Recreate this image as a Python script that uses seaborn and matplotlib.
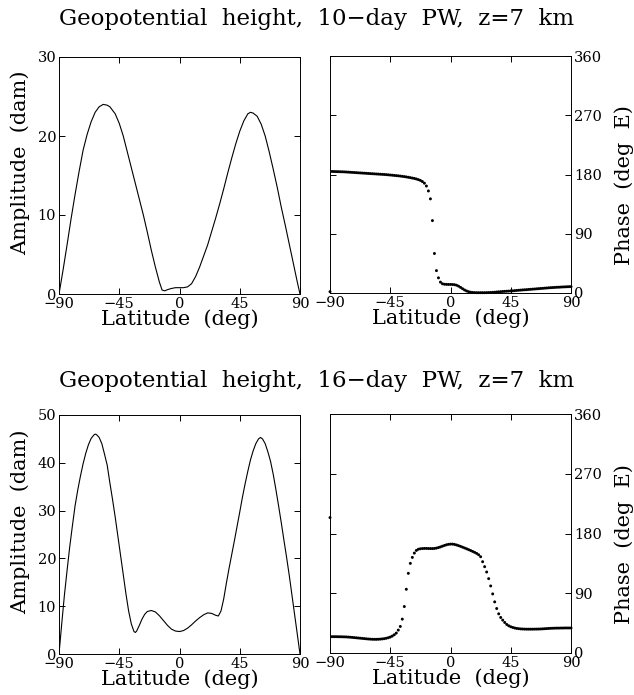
import numpy as np
import pandas as pd
import matplotlib
matplotlib.use("Agg")
import matplotlib.pyplot as plt
import seaborn as sns

# ---------------- data ----------------
# 10-day PW amplitude (dam)
amp10_lat = [-90, -87, -84, -81, -78, -75, -72, -69, -66, -63, -60, -57, -54, -52, -48, -45,
             -42, -39, -36, -33, -30, -27, -24, -21, -18, -15, -13, -11, -9, -6, -3, 0, 3, 6,
             9, 12, 15, 18, 21, 24, 27, 30, 33, 36, 39, 42, 45, 48, 51, 53, 55, 58, 61, 64,
             67, 70, 73, 76, 79, 82, 85, 88, 90]
amp10_val = [0, 3.0, 6.2, 9.5, 12.6, 15.5, 18.2, 20.2, 21.8, 23.0, 23.7, 24.0, 23.9, 23.7, 22.8, 21.6,
             20.0, 18.0, 16.0, 14.0, 12.0, 10.0, 7.8, 5.5, 3.4, 1.5, 0.5, 0.4, 0.55, 0.7, 0.8, 0.8, 0.8, 0.9,
             1.3, 2.2, 3.4, 4.8, 6.2, 7.9, 9.6, 11.4, 13.3, 15.3, 17.2, 19.0, 20.6, 21.9, 22.8, 23.0, 22.9, 22.5, 21.5, 20.0,
             18.0, 15.8, 13.5, 11.0, 8.7, 6.3, 3.9, 1.5, 0]

# 16-day PW amplitude (dam)
amp16_lat = [-90, -88, -86, -84, -82, -80, -78, -76, -74, -72, -70, -68, -66, -64, -63, -62, -60, -58,
             -56, -54, -52, -50, -48, -46, -44, -42, -40, -38, -36, -34, -33, -32, -30, -28, -26, -24,
             -21, -18, -15, -12, -9, -6, -3, 0, 3, 6, 9, 12, 15, 18, 21, 24, 27, 29, 31, 33, 35,
             37, 39, 41, 43, 45, 47, 49, 51, 53, 55, 57, 59, 60.5, 62, 64, 66, 68, 70, 72, 74,
             76, 78, 80, 82, 84, 86, 88, 90]
amp16_val = [0, 6.2, 12.2, 17.4, 22.4, 26.8, 31.0, 34.3, 37.2, 39.8, 42.0, 43.8, 45.1, 45.8, 46.0, 45.9, 45.3, 44.0,
             41.8, 39.5, 35.8, 32.3, 28.6, 24.6, 20.6, 16.6, 12.6, 9.0, 6.3, 4.7, 4.5, 4.8, 6.0, 7.3, 8.3, 8.9,
             9.1, 8.8, 8.0, 7.0, 6.0, 5.2, 4.8, 4.7, 4.9, 5.4, 6.1, 6.9, 7.6, 8.2, 8.6, 8.5, 8.1, 7.95, 9.0, 11.5, 14.8,
             17.9, 20.8, 23.7, 26.7, 29.7, 32.8, 35.6, 38.2, 40.6, 42.5, 44.0, 45.0, 45.3, 45.0, 44.0, 42.3, 40.3, 37.6, 34.4, 31.0,
             27.5, 23.8, 20.2, 16.4, 12.3, 8.2, 4.1, 0]

# phase latitudes: -90 .. 90 every 1.5 deg (121 points)
phase_lat = [round(-90 + 1.5 * i, 1) for i in range(121)]

phase10 = [2,
           184.6, 184.5, 184.4, 184.3, 184.2, 184.1, 184.0, 183.8, 183.6, 183.4,
           183.2, 183.0, 182.8, 182.6, 182.4, 182.2, 182.0, 181.8, 181.6, 181.4,
           181.2, 181.0, 180.8, 180.6, 180.4, 180.2, 180.0, 179.8, 179.5, 179.2,
           178.9, 178.6, 178.3, 178.0, 177.6, 177.2, 176.8, 176.3, 175.8, 175.2,
           174.6, 174.0, 173.2, 172.2, 171.0, 169.3, 166.8, 162.5, 155, 143,
           110, 60, 34, 23, 16.5, 14, 13.3, 13.1, 13.0, 13.0,
           12.9, 12.6, 11.8, 10.4, 8.5, 6.5, 4.6, 3.1, 2.0, 1.2,
           0.8, 0.6, 0.5, 0.5, 0.5, 0.5, 0.5, 0.6, 0.7, 0.8,
           1.0, 1.2, 1.5, 1.8, 2.0, 2.3, 2.5, 2.7, 2.9, 3.1,
           3.3, 3.6, 3.9, 4.2, 4.4, 4.7, 4.9, 5.1, 5.4, 5.6,
           5.9, 6.1, 6.4, 6.6, 6.9, 7.1, 7.4, 7.6, 7.9, 8.1,
           8.3, 8.5, 8.7, 8.8, 9.0, 9.2, 9.3, 9.5, 9.6, 9.7]

phase16 = [204,
           24.6, 24.6, 24.6, 24.5, 24.5, 24.4, 24.3, 24.2, 24.0, 23.8,
           23.5, 23.2, 22.9, 22.6, 22.3, 22.0, 21.7, 21.4, 21.1, 20.9,
           20.7, 20.6, 20.6, 20.7, 20.9, 21.2, 21.6, 22.2, 23.0, 24.0,
           25.5, 27.5, 30, 34.5, 40, 51, 70, 96, 120, 135,
           144, 150.5, 154.5, 156.3, 157, 157.3, 157.5, 157.5, 157.4, 157.3,
           157.3, 157.5, 158, 158.8, 159.8, 160.9, 162, 163, 163.7, 164,
           164, 163.5, 162.7, 161.7, 160.6, 159.4, 158.2, 157, 155.7, 154.4,
           153, 151.6, 150, 148, 145, 137.5, 130, 122, 112, 101,
           89, 77, 67, 59, 53.5, 49.5, 46, 43, 41, 39.5,
           38.5, 37.6, 37, 36.6, 36.3, 36.1, 36, 35.9, 35.9, 35.9,
           35.9, 36, 36, 36.1, 36.2, 36.4, 36.6, 36.8, 37, 37.2,
           37.3, 37.4, 37.5, 37.5, 37.6, 37.6, 37.7, 37.7, 37.7, 37.7]

titles = ["Geopotential  height,  10\u2212day  PW,  z=7  km",
          "Geopotential  height,  16\u2212day  PW,  z=7  km"]
lat_ticks = [-90, -45, 0, 45, 90]
phase_ticks = [0, 90, 180, 270, 360]
amp_ticks_top = [0, 10, 20, 30]
amp_ticks_bot = [0, 10, 20, 30, 40, 50]

# ---------------- style ----------------
sns.set_style("ticks")
plt.rcParams['font.family'] = ['DejaVu Serif']
plt.rcParams['text.color'] = 'black'
plt.rcParams['axes.labelcolor'] = 'black'
plt.rcParams['xtick.color'] = 'black'
plt.rcParams['ytick.color'] = 'black'
plt.rcParams['axes.linewidth'] = 0.7
plt.rcParams['xtick.direction'] = 'in'
plt.rcParams['ytick.direction'] = 'in'

W, H = 634, 695
fig = plt.figure(figsize=(W / 100, H / 100), dpi=100)


def add_ax(x0, y0, x1, y1):
    return fig.add_axes([x0 / W, 1 - y1 / H, (x1 - x0) / W, (y1 - y0) / H])


TICK_FS = 10.5
LAB_FS = 15
TITLE_FS = 16.5


def style_common(ax):
    ax.set_xlim(-90, 90)
    ax.set_xticks(lat_ticks)
    ax.set_xticklabels([f"{t:d}".replace("-", "\u2212") for t in lat_ticks])
    ax.tick_params(axis='both', which='major', direction='in', length=4, width=0.7,
                   top=True, right=True, bottom=True, left=True, labelsize=TICK_FS, pad=2,
                   colors='black')
    ax.set_xlabel("Latitude  (deg)", fontsize=LAB_FS)
    ax.xaxis.label.set_va('center')
    ax.xaxis.set_label_coords(0.5, -0.105)
    for s in ax.spines.values():
        s.set_color('black')
        s.set_linewidth(0.7)


panels = [
    (amp10_lat, amp10_val, phase10, 30, amp_ticks_top, (57, 294), (56, 293)),
    (amp16_lat, amp16_val, phase16, 50, amp_ticks_bot, (415, 654), (414, 653)),
]
title_y = [19, 381]

for k, (alat, aval, ph, amax, aticks, (ly0, ly1), (ry0, ry1)) in enumerate(panels):
    axL = add_ax(59, ly0, 300, ly1)
    dfa = pd.DataFrame({"lat": alat, "amp": aval})
    sns.lineplot(data=dfa, x="lat", y="amp", ax=axL, color='black', linewidth=0.8,
                 sort=False, estimator=None)
    style_common(axL)
    axL.set_ylim(0, amax)
    axL.set_yticks(aticks)
    axL.set_ylabel("Amplitude  (dam)", fontsize=LAB_FS)
    axL.yaxis.label.set_va('center')
    axL.yaxis.label.set_ha('center')
    axL.yaxis.set_label_coords(-0.16, 0.555)

    axR = add_ax(330, ry0, 571, ry1)
    dfp = pd.DataFrame({"lat": phase_lat, "phase": ph})
    sns.scatterplot(data=dfp, x="lat", y="phase", ax=axR, color='black', s=4.5,
                    edgecolor='none', linewidth=0, clip_on=False)
    style_common(axR)
    axR.set_ylim(0, 360)
    axR.set_yticks(phase_ticks)
    axR.tick_params(axis='y', labelleft=False, labelright=True)
    axR.yaxis.set_label_position('right')
    axR.set_ylabel("Phase  (deg  E)", fontsize=LAB_FS)
    axR.yaxis.label.set_va('center')
    axR.yaxis.label.set_ha('center')
    axR.yaxis.set_label_coords(1.22, 0.455)

    fig.text(317 / W, 1 - title_y[k] / H, titles[k], ha='center', va='center',
             fontsize=TITLE_FS)

fig.savefig("out.png", dpi=100)
